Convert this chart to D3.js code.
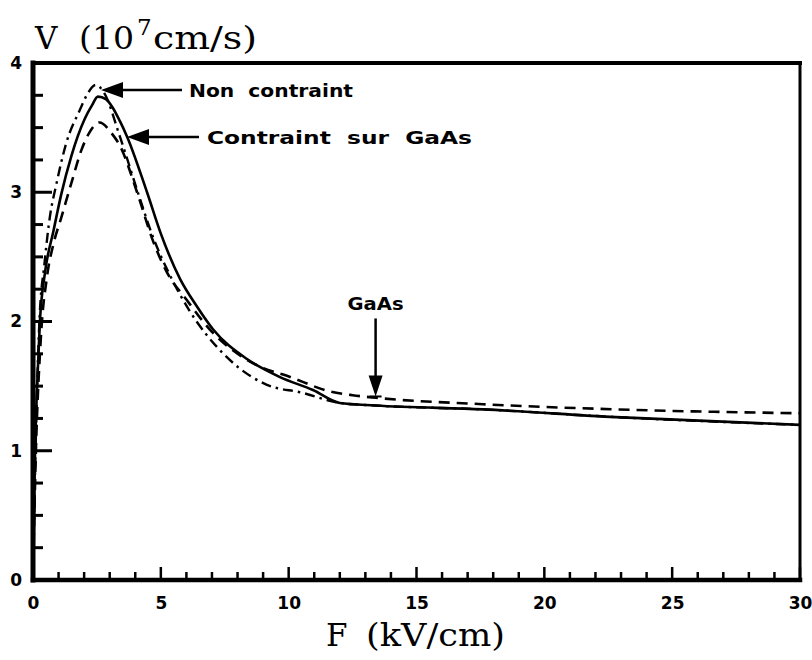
<!DOCTYPE html>
<html>
<head>
<meta charset="utf-8">
<script src="https://cdn.jsdelivr.net/npm/d3@7"></script>
<style>
  html, body { margin: 0; padding: 0; background: #fff; }
  svg { display: block; }
</style>
</head>
<body>
<svg id="chart" width="812" height="660"></svg>
<script>
// drift velocity V (1e7 cm/s) against field F (kV/cm)

// "Contraint sur GaAs" : solid
const fConstrained = [0, 0.08, 0.16, 0.27, 0.47, 0.8, 1.1, 1.5, 2.03, 2.3, 2.54, 2.85, 3.1, 3.4, 3.68, 4.46, 5.0, 5.75, 6.4, 7.04, 8.37, 9.66, 10.95, 12.0, 13.4, 17.6, 22.8, 30];
const vConstrained = [0, 1.0, 1.5, 2.0, 2.38, 2.7, 2.98, 3.28, 3.57, 3.67, 3.74, 3.72, 3.66, 3.55, 3.43, 3.0, 2.68, 2.33, 2.12, 1.94, 1.71, 1.57, 1.47, 1.37, 1.35, 1.32, 1.26, 1.20];

// "Non contraint" : dash-dot
const fUnstrained = [0, 0.1, 0.25, 0.45, 0.66, 0.9, 1.3, 1.84, 2.1, 2.45, 2.75, 3.4, 4.1, 4.7, 5.3, 6.1, 7.4, 8.0, 9.15, 10.5, 12.0, 13.4, 17.6, 22.8, 30];
const vUnstrained = [0, 1.0, 2.0, 2.45, 2.81, 3.05, 3.38, 3.64, 3.75, 3.83, 3.78, 3.43, 3.0, 2.65, 2.38, 2.09, 1.76, 1.65, 1.51, 1.45, 1.37, 1.35, 1.32, 1.26, 1.20];

// "GaAs" : dashed
const fGaAs = [0, 0.1, 0.3, 0.55, 0.8, 1.1, 1.5, 1.9, 2.2, 2.6, 3.1, 3.4, 4.07, 4.7, 5.24, 6.0, 7.0, 8.0, 9.0, 9.93, 11.6, 12.5, 13.4, 17.6, 22.8, 30];
const vGaAs = [0, 0.9, 1.85, 2.35, 2.6, 2.8, 3.07, 3.33, 3.46, 3.54, 3.45, 3.36, 3.0, 2.62, 2.38, 2.17, 1.92, 1.75, 1.64, 1.58, 1.46, 1.43, 1.41, 1.36, 1.32, 1.29];

const xMajorTicks = [0, 5, 10, 15, 20, 25, 30];
const xMinorTicks = d3.range(0, 31, 1);
const yMajorTicks = [0, 1, 2, 3, 4];
const yMinorTicks = d3.range(0, 4.01, 0.25);

const svg = d3.select('#chart');
const x = d3.scaleLinear().domain([0, 30]).range([33, 800]);
const y = d3.scaleLinear().domain([0, 4]).range([580, 63]);

const tickFont = '"DejaVu Sans", sans-serif';
const serif = '"DejaVu Serif", "Liberation Serif", serif';

// frame
const frame = svg.append('g').attr('stroke', '#000').attr('stroke-linecap', 'square');
frame.append('line').attr('x1', x(0)).attr('x2', x(0)).attr('y1', y(4)).attr('y2', y(0)).attr('stroke-width', 5);
frame.append('line').attr('x1', x(0)).attr('x2', x(30)).attr('y1', y(0)).attr('y2', y(0)).attr('stroke-width', 4.5);
frame.append('line').attr('x1', x(0)).attr('x2', x(30)).attr('y1', y(4)).attr('y2', y(4)).attr('stroke-width', 4);
frame.append('line').attr('x1', x(30)).attr('x2', x(30)).attr('y1', y(4)).attr('y2', y(0)).attr('stroke-width', 3);

// ticks, pointing into the plot
svg.append('g').selectAll('line').data(xMinorTicks).join('line')
  .attr('x1', d => x(d)).attr('x2', d => x(d))
  .attr('y1', y(0)).attr('y2', d => y(0) - (d % 5 === 0 ? 13 : 8))
  .attr('stroke', '#000')
  .attr('stroke-width', 2.5);
svg.append('g').selectAll('line').data(yMinorTicks).join('line')
  .attr('y1', d => y(d)).attr('y2', d => y(d))
  .attr('x1', x(0)).attr('x2', d => x(0) + (d % 1 === 0 ? 19 : 10))
  .attr('stroke', '#000')
  .attr('stroke-width', 3);

// tick labels through d3 axes (tick lines hidden)
svg.append('g')
  .attr('transform', `translate(0,${y(0)})`)
  .call(d3.axisBottom(x).tickValues(xMajorTicks).tickSize(0).tickPadding(17).tickFormat(d3.format('d')))
  .call(g => g.select('.domain').remove())
  .call(g => g.selectAll('text')
    .attr('font-family', tickFont).attr('font-weight', 'bold').attr('font-size', 17).attr('fill', '#000'));

svg.append('g')
  .attr('transform', `translate(${x(0)},0)`)
  .call(d3.axisLeft(y).tickValues(yMajorTicks).tickSize(0).tickPadding(11).tickFormat(d3.format('d')))
  .call(g => g.select('.domain').remove())
  .call(g => g.selectAll('text')
    .attr('font-family', tickFont).attr('font-weight', 'bold').attr('font-size', 17).attr('fill', '#000'));

// curves
const line = d3.line().x(d => x(d[0])).y(d => y(d[1])).curve(d3.curveMonotoneX);
const series = [
  { f: fConstrained, v: vConstrained, dash: null, w: 2.6 },
  { f: fUnstrained, v: vUnstrained, dash: '10,5,2.5,5', w: 2.4 },
  { f: fGaAs, v: vGaAs, dash: '11,7', w: 2.6 }
];
svg.append('g').selectAll('path').data(series).join('path')
  .attr('d', s => line(d3.zip(s.f, s.v)))
  .attr('fill', 'none')
  .attr('stroke', '#000')
  .attr('stroke-width', s => s.w)
  .attr('stroke-dasharray', s => s.dash);

// annotations
const ann = svg.append('g').attr('font-family', tickFont).attr('font-weight', 'bold')
  .attr('font-size', 18).attr('fill', '#000');

function arrowLeft(x0, x1, yy) {
  ann.append('line').attr('x1', x1).attr('x2', x0 + 18).attr('y1', yy).attr('y2', yy)
    .attr('stroke', '#000').attr('stroke-width', 2.5);
  ann.append('path').attr('d', `M${x0},${yy}L${x0 + 22},${yy - 8}L${x0 + 22},${yy + 8}Z`);
}

arrowLeft(101, 182, 90);
ann.append('text').attr('x', 189).attr('y', 97).attr('textLength', 164).attr('lengthAdjust', 'spacingAndGlyphs')
  .attr('xml:space', 'preserve').text('Non  contraint');

arrowLeft(127, 199, 137);
ann.append('text').attr('x', 207).attr('y', 144).attr('textLength', 265).attr('lengthAdjust', 'spacingAndGlyphs')
  .attr('xml:space', 'preserve').text('Contraint  sur  GaAs');

// GaAs arrow pointing down onto the dashed curve
const gx = x(13.4), gy = y(1.42);
ann.append('line').attr('x1', gx).attr('x2', gx).attr('y1', gy - 78).attr('y2', gy - 16)
  .attr('stroke', '#000').attr('stroke-width', 2.5);
ann.append('path').attr('d', `M${gx},${gy}L${gx - 7},${gy - 21}L${gx + 7},${gy - 21}Z`);
ann.append('line').attr('x1', gx - 6).attr('x2', gx + 6).attr('y1', gy).attr('y2', gy)
  .attr('stroke', '#000').attr('stroke-width', 2);
ann.append('text').attr('x', gx).attr('y', gy - 86).attr('text-anchor', 'middle')
  .attr('textLength', 56).attr('lengthAdjust', 'spacingAndGlyphs').text('GaAs');

// axis titles
const yt = svg.append('text').attr('font-family', serif).attr('font-size', 31).attr('y', 49).attr('fill', '#000');
yt.append('tspan').attr('x', 35).text('V');
yt.append('tspan').attr('x', 79).attr('textLength', 55).attr('lengthAdjust', 'spacingAndGlyphs').text('(10');
yt.append('tspan').attr('x', 137).attr('dy', -14).attr('font-size', 23).text('7');
yt.append('tspan').attr('x', 153).attr('dy', 14).attr('textLength', 104).attr('lengthAdjust', 'spacingAndGlyphs').text('cm/s)');

const xt = svg.append('text').attr('font-family', serif).attr('font-size', 31).attr('y', 646).attr('fill', '#000');
xt.append('tspan').attr('x', 326).text('F');
xt.append('tspan').attr('x', 366).attr('textLength', 139).attr('lengthAdjust', 'spacingAndGlyphs').text('(kV/cm)');
</script>
</body>
</html>
